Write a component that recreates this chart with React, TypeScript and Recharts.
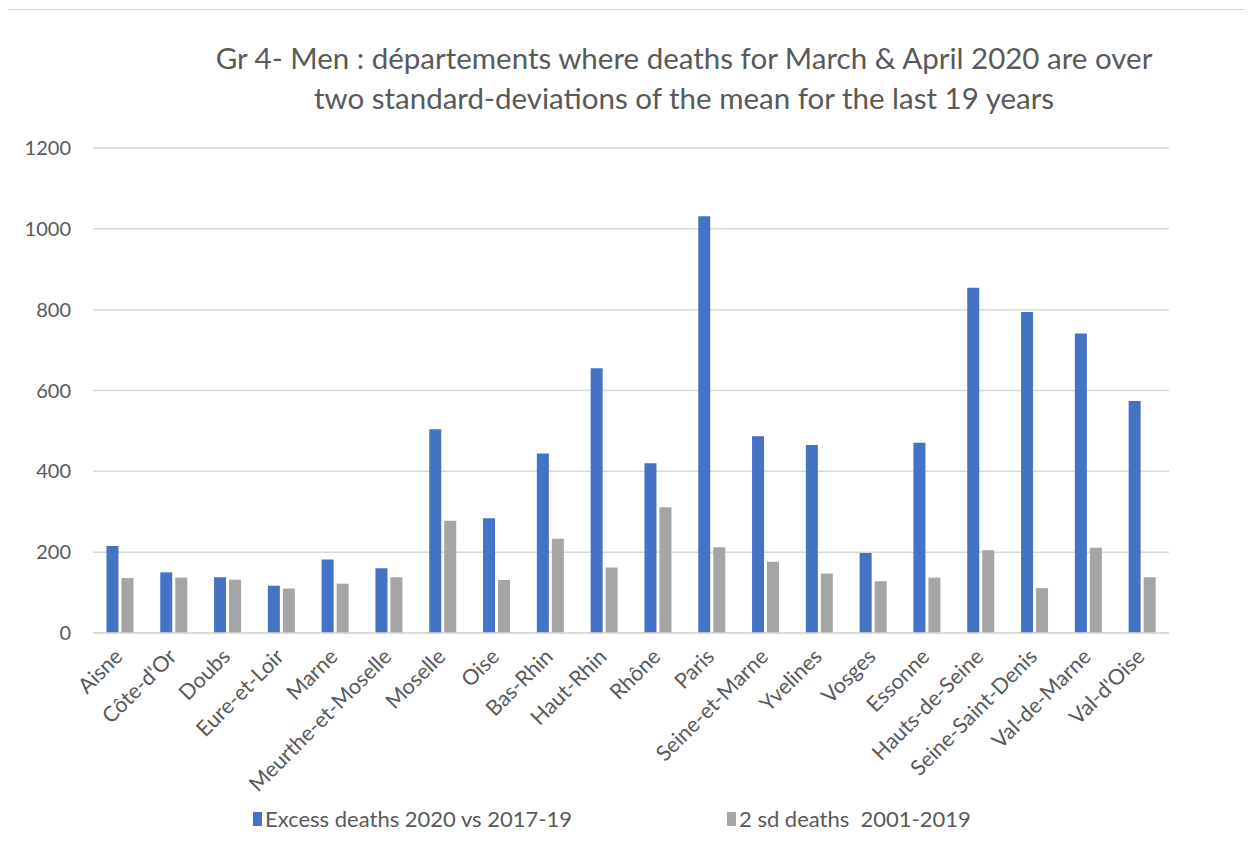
import { BarChart, Bar, XAxis, YAxis, CartesianGrid, Legend } from "recharts";

const departements = [
  "Aisne", "Côte-d'Or", "Doubs", "Eure-et-Loir", "Marne", "Meurthe-et-Moselle",
  "Moselle", "Oise", "Bas-Rhin", "Haut-Rhin", "Rhône", "Paris", "Seine-et-Marne",
  "Yvelines", "Vosges", "Essonne", "Hauts-de-Seine", "Seine-Saint-Denis",
  "Val-de-Marne", "Val-d'Oise",
];

const excessDeaths = [
  215, 150, 138, 117, 182, 160, 504, 284, 444, 655, 420, 1031, 487, 465, 198,
  471, 854, 794, 741, 574,
];

const twoSdDeaths = [
  136, 137, 132, 110, 122, 138, 278, 131, 233, 162, 311, 212, 176, 147, 128,
  137, 205, 111, 211, 138,
];

const yTicks = [0, 200, 400, 600, 800, 1000, 1200];

const data = departements.map((name, i) => ({
  name,
  excess: excessDeaths[i],
  sd: twoSdDeaths[i],
}));

const FONT = "Lato, 'Open Sans', sans-serif";
const TEXT = "#595959";

function XTick({ x, y, payload }: any) {
  const ax = x + 4;
  const ay = y + 17;
  return (
    <text
      x={ax}
      y={ay}
      transform={`rotate(-45, ${ax}, ${ay})`}
      textAnchor="end"
      fill={TEXT}
      fontSize={21.5}
      fontFamily={FONT}
    >
      {payload.value}
    </text>
  );
}

function LegendBox() {
  const item = (color: string, label: string, left: number) => (
    <div style={{ position: "absolute", left, top: 0, display: "flex", alignItems: "center" }}>
      <span style={{ display: "inline-block", width: 9, height: 14, background: color, marginRight: 3 }} />
      <span style={{ fontSize: 22, color: TEXT, fontFamily: FONT, whiteSpace: "pre" }}>{label}</span>
    </div>
  );
  return (
    <div style={{ position: "relative", height: 24, width: 1249 }}>
      {item("#4472C4", "Excess deaths 2020 vs 2017-19", 248)}
      {item("#A5A5A5", "2 sd deaths  2001-2019", 722)}
    </div>
  );
}

export default function App() {
  return (
    <div
      style={{
        position: "relative",
        width: 1249,
        height: 838,
        margin: "1px 0 0 -4px",
        borderTop: "1px solid #d9d9d9",
        borderLeft: "1px solid #d9d9d9",
        background: "#fff",
        boxSizing: "border-box",
      }}
    >
      <div
        style={{
          position: "absolute",
          left: 0,
          width: 1358,
          top: 28,
          textAlign: "center",
          fontFamily: FONT,
          fontSize: 29.5,
          lineHeight: "40px",
          color: TEXT,
        }}
      >
        Gr 4- Men : départements where deaths for March &amp; April 2020 are over
        <br />
        two standard-deviations of the mean for the last 19 years
      </div>
      <BarChart
        width={1248}
        height={837}
        data={data}
        margin={{ top: 138, right: 84, left: 0, bottom: 0 }}
        barCategoryGap="25%"
        barGap={3}
      >
        <CartesianGrid vertical={false} stroke="#d9d9d9" strokeWidth={1.5} />
        <XAxis
          dataKey="name"
          interval={0}
          height={190}
          tick={<XTick />}
          tickLine={false}
          axisLine={{ stroke: "#d9d9d9", strokeWidth: 1.5 }}
        />
        <YAxis
          width={88}
          domain={[0, 1200]}
          ticks={yTicks}
          tickLine={false}
          axisLine={false}
          tickSize={0}
          tickMargin={22}
          tick={{ fill: TEXT, fontSize: 20, fontFamily: FONT }}
        />
        <Legend
          verticalAlign="bottom"
          content={<LegendBox />}
          wrapperStyle={{ bottom: 18, left: 0 }}
        />
        <Bar dataKey="excess" name="Excess deaths 2020 vs 2017-19" fill="#4472C4" isAnimationActive={false} />
        <Bar dataKey="sd" name="2 sd deaths  2001-2019" fill="#A5A5A5" isAnimationActive={false} />
      </BarChart>
    </div>
  );
}
